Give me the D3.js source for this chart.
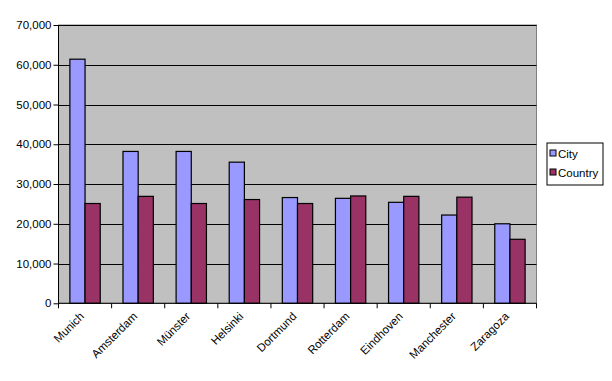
<!DOCTYPE html>
<html><head><meta charset="utf-8">
<script src="https://cdn.jsdelivr.net/npm/d3@7"></script>
<style>body{margin:0;background:#fff}svg{display:block}</style>
</head><body>
<script>
const categories = ["Munich","Amsterdam","Münster","Helsinki","Dortmund","Rotterdam","Eindhoven","Manchester","Zaragoza"];
const cityValues = [61400,38200,38200,35500,26600,26400,25400,22200,20000];
const countryValues = [25100,26900,25100,26100,25100,27000,26900,26700,16100];
const seriesNames = ["City","Country"];
const seriesColors = ["#9999FF","#993366"];
const yTicks = [0,10000,20000,30000,40000,50000,60000,70000];

const W=612,H=381;
const m={left:58.5,right:75.5,top:25,bottom:77.7};
const svg=d3.select("body").append("svg").attr("width",W).attr("height",H);
const font="Liberation Sans, Arial, sans-serif";

const x=d3.scaleBand().domain(categories).range([m.left,W-m.right]);
const y=d3.scaleLinear().domain([0,70000]).range([H-m.bottom,m.top]);
const bw=x.bandwidth()/3.5;

svg.append("rect").attr("x",m.left).attr("y",m.top).attr("width",W-m.right-m.left).attr("height",H-m.bottom-m.top)
  .attr("fill","#C0C0C0").attr("stroke","#808080").attr("stroke-width",1);

svg.append("g").selectAll("line").data(yTicks.slice(1)).join("line")
  .attr("x1",m.left).attr("x2",W-m.right).attr("y1",d=>Math.round(y(d))+0.5).attr("y2",d=>Math.round(y(d))+0.5)
  .attr("stroke","#000").attr("stroke-width",1.2);

const data=categories.map((c,i)=>({c,vals:[cityValues[i],countryValues[i]]}));
const g=svg.append("g");
data.forEach(d=>{
  d.vals.forEach((v,j)=>{
    g.append("rect").attr("x",x(d.c)+bw*0.75+j*bw).attr("y",y(v)).attr("width",bw).attr("height",y(0)-y(v))
      .attr("fill",seriesColors[j]).attr("stroke","#000").attr("stroke-width",1.2);
  });
});

const ya=svg.append("g").attr("transform",`translate(${m.left},0)`)
  .call(d3.axisLeft(y).tickValues(yTicks).tickSize(5).tickPadding(2).tickFormat(d3.format(",")));
ya.select(".domain").attr("stroke","#000").attr("d",`M0,${m.top}V${H-m.bottom}`);
ya.selectAll("line").attr("stroke","#000");
ya.selectAll("text").attr("font-family",font).attr("font-size",11.5).attr("fill","#000");

const xa=svg.append("g").attr("transform",`translate(0,${H-m.bottom})`);
xa.append("line").attr("x1",m.left).attr("x2",W-m.right).attr("stroke","#000");
const bounds=categories.map(c=>x(c)).concat([W-m.right]);
xa.selectAll("line.t").data(bounds).join("line").attr("class","t")
  .attr("x1",d=>d).attr("x2",d=>d).attr("y1",0).attr("y2",5).attr("stroke","#000");
xa.selectAll("text").data(categories).join("text")
  .attr("transform",d=>`translate(${x(d)+x.bandwidth()/2-6},${8}) rotate(-45)`)
  .attr("text-anchor","end").attr("dy","0.71em")
  .attr("font-family",font).attr("font-size",11.5).attr("fill","#000").text(d=>d);

const lg=svg.append("g").attr("transform","translate(547,143)");
lg.append("rect").attr("width",56).attr("height",42).attr("fill","#fff").attr("stroke","#000");
seriesNames.forEach((n,i)=>{
  lg.append("rect").attr("x",3).attr("y",7+i*19).attr("width",6).attr("height",6)
    .attr("fill",seriesColors[i]).attr("stroke","#000");
  lg.append("text").attr("x",11).attr("y",14.5+i*19).attr("font-family",font).attr("font-size",11.5).text(n);
});
</script>
</body></html>
